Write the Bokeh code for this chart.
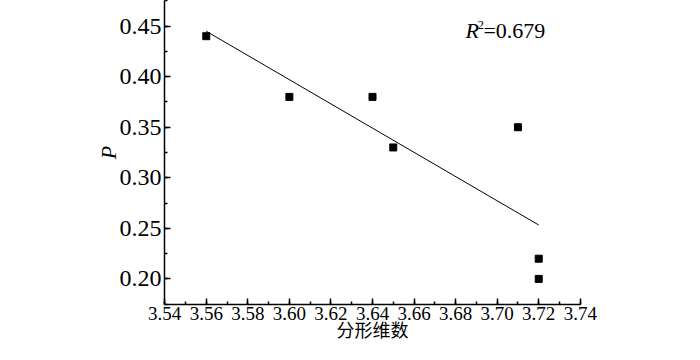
import numpy as np
from bokeh.plotting import figure
from bokeh.models import (Range1d, SingleIntervalTicker, NumeralTickFormatter, Label, ColumnDataSource)
from bokeh.embed import file_html
from bokeh.resources import INLINE

# data
fractal_dim = [3.56, 3.60, 3.64, 3.65, 3.71, 3.72, 3.72]
p_values = [0.44, 0.38, 0.38, 0.33, 0.35, 0.22, 0.20]
r2_text = "=0.679"
x_label = "分形维数"
y_label = "P"

SERIF = "Liberation Serif"
X0, X1 = 3.5399, 3.7401
Y0, Y1 = 0.1747, 0.4753

p = figure(width=684, height=344, output_backend="svg", toolbar_location=None,
           x_range=Range1d(X0, X1), y_range=Range1d(Y0, Y1),
           min_border_left=164, min_border_right=104, min_border_top=0, min_border_bottom=36)
p.outline_line_color = None
p.grid.visible = False
p.background_fill_color = "white"
p.border_fill_color = "white"

# regression line
slope, intercept = np.polyfit(fractal_dim, p_values, 1)
xf = [min(fractal_dim), max(fractal_dim)]
yf = [slope * v + intercept for v in xf]
p.line(xf, yf, line_color="black", line_width=1)

src = ColumnDataSource(dict(x=fractal_dim, y=p_values))
p.scatter("x", "y", source=src, marker="square", size=7, fill_color="black", line_color="black")

for ax, interval in ((p.xaxis[0], 0.02), (p.yaxis[0], 0.05)):
    ax.ticker = SingleIntervalTicker(interval=interval, num_minor_ticks=2)
    ax.formatter = NumeralTickFormatter(format="0.00")
    ax.axis_line_width = 1.5
    ax.axis_line_color = "black"
    ax.major_tick_in = 6
    ax.major_tick_out = 0
    ax.minor_tick_in = 3
    ax.minor_tick_out = 0
    ax.major_tick_line_width = 1.5
    ax.minor_tick_line_width = 1.5
    ax.major_label_text_font = SERIF
    ax.major_label_text_color = "black"
    ax.axis_label_text_color = "black"

p.xaxis.major_label_text_font_size = "19px"
p.xaxis.major_label_standoff = 2
p.xaxis.axis_label = x_label
p.xaxis.axis_label_text_font = "Noto Sans CJK SC"
p.xaxis.axis_label_text_font_size = "18px"
p.xaxis.axis_label_text_font_style = "normal"
p.xaxis.axis_label_standoff = -7

p.yaxis.major_label_text_font_size = "24px"
p.yaxis.major_label_standoff = 3
p.yaxis.axis_label = y_label
p.yaxis.axis_label_text_font = SERIF
p.yaxis.axis_label_text_font_size = "22px"
p.yaxis.axis_label_text_font_style = "italic"
p.yaxis.axis_label_standoff = -4

# R^2 annotation
p.add_layout(Label(x=3.6847, y=0.446, text="R", text_font=SERIF, text_font_size="22px",
                   text_font_style="italic", text_baseline="middle", text_color="black"))
p.add_layout(Label(x=3.6847, y=0.446, text="2", x_offset=12, y_offset=5, text_font=SERIF,
                   text_font_size="13px", text_baseline="middle", text_color="black"))
p.add_layout(Label(x=3.6847, y=0.446, text=r2_text, x_offset=18, text_font=SERIF,
                   text_font_size="22px", text_baseline="middle", text_color="black"))

open("out.html", "w").write(file_html(p, INLINE))
